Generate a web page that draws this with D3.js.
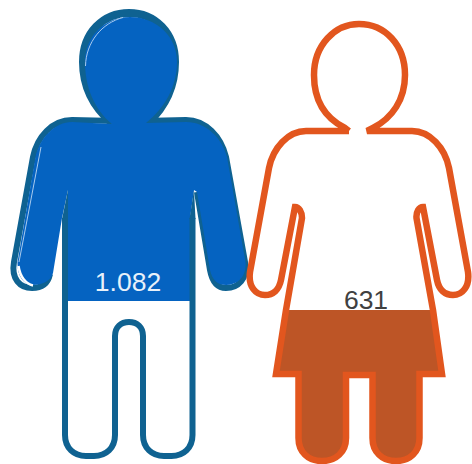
<!DOCTYPE html>
<html>
<head>
<meta charset="utf-8">
<script src="https://cdn.jsdelivr.net/npm/d3@7"></script>
<style>
html, body { margin: 0; padding: 0; background: #fff; }
text { font-family: "Liberation Sans", Arial, sans-serif; }
</style>
</head>
<body>
<div id="chart"></div>
<script>
var width = 472,
    height = 464;

// data
var genders = ["man", "woman"];
var values = [1082, 631];
var valueLabels = ["1.082", "631"];

// colours per figure
var fillColors = ["#0563c1", "#bd5526"];
var strokeColors = ["#0f6291", "#e2561e"];
var labelColors = ["#e8f1fa", "#404040"];

// man: the blue shape is not the same as his outline, it sits a bit to the lower right
var manBlue = "M112,124 C95,110 85,88 85,62 C85,37 104,17 130,17 C156,17 177,36 177,62 C177,86 165,108 146,123 " +
  "L186,122 C206,122 222,138 227,157 L245.5,262 C247,276 238,285 226,285 C217,285 212,279 210,270 L197,192 " +
  "L194,190 L190,218 L190,320 L68,320 L68,190 L62,218 L53,273 C51,281 42,285 33,285 C24,285 17,276 17.5,262 " +
  "L35.5,157 C39.5,138 55,122 72,122 Z";

// outer edge of arms and shoulders
var manUpper = "M50,274 C48,283 42,288 32,288 C20,288 11,279 14,262 L33,157 C37,137 52,120 72,120 L116,121 " +
  "M143,121 L186,120 C206,120 221,137 226,157 L245,262 C248,279 238,288 226,288 C217,288 212,281 210,270 L197,192";

// head outline is heavier than the rest
var manHead = "M112,123 C92,106 83,86 83,62 C83,33 103,13 129,13 C155,13 175,33 175,62 C175,86 166,106 148,123";

// trunk and legs, drawn over the blue
var manLower = "M65,218 L65,435 C65,448 74,456 86,456 L94,456 C106,456 115,448 115,435 L115,336 " +
  "C115,327 121,322 129,322 C137,322 143,327 143,336 L143,435 C143,448 152,456 164,456 L171.5,456 " +
  "C183.5,456 192.5,448 192.5,435 L192.5,218";

var manWedges = "M68,190 L62,219 L68,219 Z M194,190 L189.5,219 L195.5,219 Z";

// glossy edge on the man
var manShine = "M85.5,66 C86,42 102,23 123,17.5 M41,147 L19,262";
var manCrescent = "M18.5,266 C20,277 26,284 33,285.5";

// woman: open at the neck
var womanPath = "M349,131 L345,128 C325,118 314,100 314,75 C314,45 335,24 359,24 C385,24 405,45 405,75 " +
  "C405,100 392,118 373,128 L367,131 L412,131 C430,131 445,148 449,168 L468,272 C470,287 462,295 453,295 " +
  "C445,295 439,290 437,280 L423,207 C419,207 416,212 416.5,218 L433,310 L442,374 L419.5,374 L419.5,438 " +
  "C419.5,452 410,461 396,461 C382,461 372.5,452 372.5,438 L372.5,375 L346,375 L346,438 C346,452 336,461 322,461 " +
  "C308,461 298.5,452 298.5,438 L298.5,374 L276,374 L286,310 L302,218 C302,212 299,207 295,207 L281,280 " +
  "C279,290 273,295 265,295 C256,295 248,287 250,272 L269,168 C273,148 288,131 306,131 L349,131";

// each figure has its own level scale: value -> y of the fill edge
var manLevel = d3.scaleLinear().domain([0, 1082]).range([9, 301]);
var womanLevel = d3.scaleLinear().domain([0, 631]).range([464, 310]);

var svg = d3.select("#chart")
  .append("svg")
  .attr("width", width)
  .attr("height", height)
  .style("display", "block");

var defs = svg.append("defs");

defs.append("clipPath")
  .attr("id", "clip-" + genders[0])
  .append("rect")
  .attr("x", 0)
  .attr("y", 0)
  .attr("width", width)
  .attr("height", manLevel(values[0]));

defs.append("clipPath")
  .attr("id", "clip-" + genders[1])
  .append("path")
  .attr("d", womanPath);

function outline(d, color, w) {
  svg.append("path")
    .attr("d", d)
    .style("fill", "none")
    .style("stroke", color)
    .style("stroke-width", w)
    .style("stroke-linejoin", "miter")
    .style("stroke-miterlimit", 4);
}

// MAN
outline(manUpper, strokeColors[0], 6);
outline(manHead, strokeColors[0], 8);

svg.append("path")
  .attr("d", manBlue)
  .attr("clip-path", "url(#clip-man)")
  .style("fill", fillColors[0]);

outline(manShine, "#a9cbee", 1);
outline(manCrescent, "#fff", 2.5);
outline(manLower, strokeColors[0], 6);

svg.append("path")
  .attr("d", manWedges)
  .style("fill", strokeColors[0]);

// WOMAN
var level = womanLevel(values[1]);

svg.append("g")
  .attr("clip-path", "url(#clip-woman)")
  .append("rect")
  .attr("x", 0)
  .attr("y", level)
  .attr("width", width)
  .attr("height", height - level)
  .style("fill", fillColors[1]);

outline(womanPath, strokeColors[1], 6.5);

// labels
var labelX = [128, 366],
    labelY = [291, 309];

svg.selectAll("text.value")
  .data(valueLabels)
  .enter()
  .append("text")
  .attr("class", "value")
  .attr("x", function(d, i) { return labelX[i]; })
  .attr("y", function(d, i) { return labelY[i]; })
  .attr("text-anchor", "middle")
  .style("font-size", "26.5px")
  .style("fill", function(d, i) { return labelColors[i]; })
  .text(function(d) { return d; });
</script>
</body>
</html>
